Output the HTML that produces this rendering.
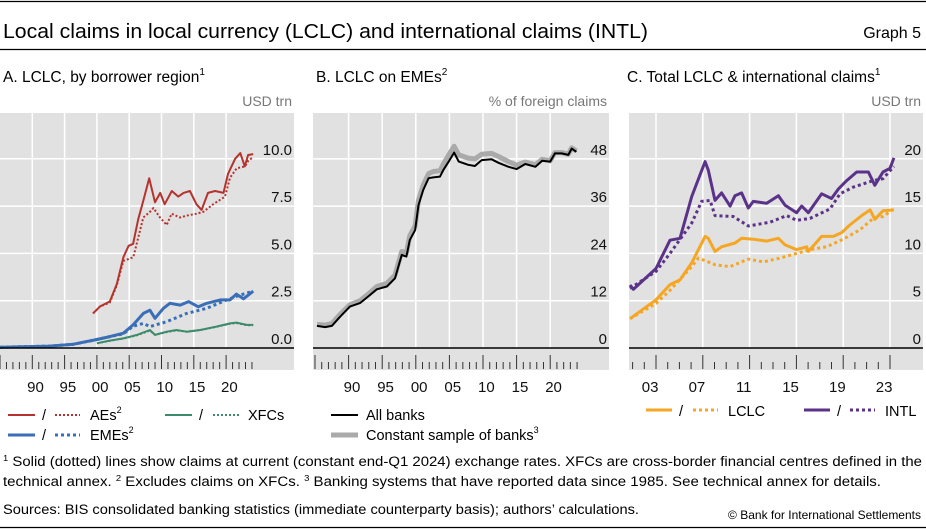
<!DOCTYPE html>
<html><head><meta charset="utf-8"><style>
html,body{margin:0;padding:0;background:#fff}
svg{display:block;font-family:"Liberation Sans",sans-serif}
</style></head><body>
<svg id="chart" width="926" height="529" viewBox="0 0 926 529" xmlns="http://www.w3.org/2000/svg">
<line x1="0" y1="1.5" x2="926" y2="1.5" stroke="#000" stroke-width="1.2"/>
<text x="3" y="38" font-size="20" textLength="645" lengthAdjust="spacingAndGlyphs" fill="#000">Local claims in local currency (LCLC) and international claims (INTL)</text>
<text x="921" y="38" font-size="16" text-anchor="end" fill="#000">Graph 5</text>
<line x1="0" y1="49.5" x2="926" y2="49.5" stroke="#000" stroke-width="1.2"/>
<text x="3" y="82" font-size="15.5" fill="#000">A. LCLC, by borrower region<tspan font-size="10" dy="-7">1</tspan></text>
<text x="316" y="82" font-size="15.5" fill="#000">B. LCLC on EMEs<tspan font-size="10" dy="-7">2</tspan></text>
<text x="627" y="82" font-size="15.5" fill="#000">C. Total LCLC &amp; international claims<tspan font-size="10" dy="-7">1</tspan></text>
<text x="292" y="106" font-size="14" text-anchor="end" fill="#777">USD trn</text>
<text x="607" y="106" font-size="14" text-anchor="end" fill="#777">% of foreign claims</text>
<text x="921" y="106" font-size="14" text-anchor="end" fill="#777">USD trn</text>
<g id="plots"></g>
<!-- legends -->
<g font-size="14.5" fill="#000">
<g>
<line x1="8" y1="415" x2="35" y2="415" stroke="#b5332e" stroke-width="2"/>
<text x="42" y="420">/</text>
<line x1="55" y1="415" x2="80" y2="415" stroke="#b5332e" stroke-width="2" stroke-dasharray="2 2"/>
<text x="90" y="420">AEs<tspan font-size="9" dy="-7">2</tspan></text></g>
<g>
<line x1="8" y1="435" x2="35" y2="435" stroke="#3a6fb7" stroke-width="3"/>
<text x="42" y="440">/</text>
<line x1="55" y1="435" x2="80" y2="435" stroke="#3a6fb7" stroke-width="3" stroke-dasharray="3 3"/>
<text x="90" y="440">EMEs<tspan font-size="9" dy="-7">2</tspan></text></g>
<g>
<line x1="165" y1="415" x2="192" y2="415" stroke="#3d8b6a" stroke-width="2"/>
<text x="199" y="420">/</text>
<line x1="213" y1="415" x2="240" y2="415" stroke="#3d8b6a" stroke-width="2" stroke-dasharray="2 2"/>
<text x="248" y="420">XFCs</text></g>
<g>
<line x1="331" y1="415" x2="358" y2="415" stroke="#000" stroke-width="2"/>
<text x="366" y="420">All banks</text></g>
<g>
<line x1="331" y1="435" x2="358" y2="435" stroke="#aaa" stroke-width="5"/>
<text x="366" y="440">Constant sample of banks<tspan font-size="9" dy="-7">3</tspan></text></g>
<g>
<line x1="646" y1="410" x2="672" y2="410" stroke="#f5a623" stroke-width="3"/>
<text x="679" y="416">/</text>
<line x1="693" y1="410" x2="718" y2="410" stroke="#f5a623" stroke-width="3" stroke-dasharray="3 3"/>
<text x="728" y="416">LCLC</text></g>
<g>
<line x1="804" y1="410" x2="830" y2="410" stroke="#5b3289" stroke-width="3"/>
<text x="837" y="416">/</text>
<line x1="850" y1="410" x2="875" y2="410" stroke="#5b3289" stroke-width="3" stroke-dasharray="3 3"/>
<text x="885" y="416">INTL</text></g>
</g>
<g font-size="13.5" fill="#000">
<text x="3" y="466" textLength="919" lengthAdjust="spacingAndGlyphs"><tspan font-size="8.5" dy="-5">1</tspan><tspan dy="5">  Solid (dotted) lines show claims at current (constant end-Q1 2024) exchange rates. XFCs are cross-border financial centres defined in the</tspan></text>
<text x="3" y="486" textLength="878" lengthAdjust="spacingAndGlyphs">technical annex.   <tspan font-size="8.5" dy="-5">2</tspan><tspan dy="5">  Excludes claims on XFCs.   </tspan><tspan font-size="8.5" dy="-5">3</tspan><tspan dy="5">  Banking systems that have reported data since 1985. See technical annex for details.</tspan></text>
<text x="3" y="514" textLength="636" lengthAdjust="spacingAndGlyphs">Sources: BIS consolidated banking statistics (immediate counterparty basis); authors’ calculations.</text>
<text x="921" y="519" font-size="12" text-anchor="end">© Bank for International Settlements</text>
</g>
<line x1="0" y1="527.5" x2="926" y2="527.5" stroke="#000" stroke-width="1.2"/>
</svg>
<script>
// ---- Panel A data (USD trn) ----
const aeSolidT=[1999.4,2000.5,2002.0,2003.1,2004.1,2004.9,2005.6,2006.4,2007.2,2008.1,2009.0,2009.8,2010.5,2011.6,2012.6,2013.4,2014.4,2015.4,2016.2,2017.2,2018.3,2019.6,2020.3,2021.4,2022.2,2022.9,2023.4,2024.2];
const aeSolidV=[1.83,2.2,2.46,3.4,4.8,5.4,5.5,6.8,7.8,8.97,7.7,8.2,7.6,8.3,8.0,8.2,8.3,7.6,7.3,8.2,8.3,8.2,9.2,10.0,10.3,9.6,10.2,10.25];
const aeDotT=[1999.4,2000.5,2002.0,2003.06,2004.09,2005.64,2007.19,2008.22,2008.74,2009.77,2010.8,2011.57,2012.86,2013.9,2015.44,2016.48,2018.02,2019.83,2020.6,2021.64,2022.93,2023.44,2024.22];
const aeDotV=[1.83,2.2,2.4,3.3,4.6,4.8,6.9,7.2,7.4,6.9,6.5,7.1,6.9,7.0,7.1,7.2,7.6,8.0,9.0,9.5,9.6,9.9,10.1];
const emeSolidT=[1985,1992.7,1996.4,2000,2002,2004.1,2005.6,2007.2,2008.2,2009,2010.3,2011.3,2012.9,2014.2,2015.7,2017,2019.1,2020.6,2021.6,2022.7,2024.2];
const emeSolidV=[0.04,0.1,0.2,0.45,0.6,0.78,1.22,1.83,2.0,1.57,2.1,2.36,2.27,2.45,2.18,2.36,2.54,2.54,2.85,2.6,3.0];
const emeDotT=[1985,1992.7,1996.4,2000,2002,2004.1,2005.6,2007.2,2008.2,2010.8,2013.9,2017,2020.1,2022.2,2024.2];
const emeDotV=[0.04,0.1,0.2,0.45,0.6,0.75,1.15,1.3,1.13,1.39,1.83,2.1,2.54,2.8,3.0];
const xfcT=[2000,2002,2004.1,2006.2,2008.2,2009,2010.8,2012.3,2013.9,2016,2018.5,2020.6,2021.6,2023.2,2024.2];
const xfcV=[0.25,0.39,0.51,0.69,0.95,0.69,0.86,0.95,0.86,0.95,1.13,1.3,1.34,1.22,1.22];
const xfcDotV=[0.25,0.38,0.5,0.67,0.92,0.7,0.84,0.93,0.86,0.95,1.12,1.28,1.32,1.2,1.2];
const aTicks=[0,2.5,5,7.5,10];
const aTickLabels=["0.0","2.5","5.0","7.5","10.0"];
// ---- Panel B data (% of foreign claims) ----
const bT=[1985.3,1986.5,1987.5,1988.7,1990.2,1991.7,1993.0,1994.2,1995.7,1996.9,1997.9,1998.6,1999.1,1999.9,2000.4,2001.1,2001.9,2002.6,2003.6,2004.1,2004.9,2005.7,2006.4,2007.8,2008.8,2009.8,2011.3,2012.3,2013.8,2015.0,2016.3,2017.8,2018.8,2020.0,2020.7,2021.7,2022.7,2023.2,2023.9];
const bAll=[5.6,5.3,5.6,7.9,10.5,11.4,13.2,14.9,15.6,17.7,23.6,23.2,27.4,29.9,36.3,40.1,43.1,43.3,43.5,45.2,47.3,49.6,47.3,46.5,46.2,47.7,47.9,47.0,46.0,45.4,46.7,46.0,47.5,47.3,49.4,49.4,49.0,50.6,49.8];
const bConst=[6.0,5.8,6.2,8.5,11.0,12.0,13.8,15.6,16.4,18.5,24.5,24.2,28.5,31.0,37.5,41.3,44.3,44.8,45.0,46.7,49.0,51.2,49.0,48.2,48.0,49.2,49.4,48.6,47.3,46.4,47.2,46.5,47.9,47.5,49.6,49.6,49.2,50.8,50.0];
const bTicks=[0,12,24,36,48];
const bTickLabels=["0","12","24","36","48"];
// ---- Panel C data (USD trn) ----
const intlT=[2001.78,2002.07,2004.0,2005.2,2006.05,2007.05,2007.76,2008.2,2008.47,2009.04,2009.61,2010.33,2010.75,2011.32,2011.89,2012.32,2013.46,2014.46,2015.03,2016.02,2016.45,2017.02,2018.16,2019.0,2019.58,2020.3,2021.15,2022.15,2022.7,2023.4,2024.0,2024.33];
const intlV=[6.66,6.2,8.4,11.4,11.6,16.0,18.3,19.7,18.8,15.6,16.4,15.0,16.1,16.4,14.8,15.5,15.3,16.1,15.1,14.3,15.0,14.3,16.3,15.8,16.8,17.7,18.6,18.6,17.2,18.6,19.0,20.1];
const intlDotT=[2001.78,2004.0,2005.2,2007.05,2007.9,2008.62,2009.04,2010.61,2011.89,2013.74,2015.17,2016.02,2017.16,2018.87,2019.73,2020.85,2022.56,2023.4,2024.33];
const intlDotV=[6.3,8.1,10.0,13.2,15.5,15.6,14.0,13.9,12.9,13.3,14.0,13.5,13.7,14.7,16.3,17.0,17.7,17.9,19.2];
const lclcT=[2001.78,2004.0,2005.2,2006.05,2007.05,2008.2,2008.47,2009.04,2009.61,2010.75,2011.32,2012.32,2013.46,2014.46,2015.03,2016.02,2016.88,2017.02,2018.16,2019.15,2019.87,2020.56,2021.7,2022.3,2022.7,2023.4,2024.33];
const lclcV=[3.1,5.1,6.7,7.2,9.0,11.8,11.6,10.2,10.7,11.1,11.6,11.5,11.3,11.6,10.9,10.4,10.7,10.2,11.8,11.8,12.2,13.0,14.1,14.6,13.6,14.5,14.6];
const lclcDotT=[2001.78,2004.0,2005.2,2007.05,2007.62,2008.47,2009.04,2010.33,2011.89,2013.17,2014.6,2016.02,2017.16,2018.58,2020.0,2021.43,2022.56,2023.4,2024.33];
const lclcDotV=[3.1,4.7,6.1,8.6,9.5,9.1,8.8,8.6,9.4,9.1,9.5,10.0,10.4,10.7,11.5,12.5,13.7,13.9,14.7];
const cTicks=[0,5,10,15,20];
const cTickLabels=["0","5","10","15","20"];
const aYears=["90","95","00","05","10","15","20"];
const cYears=["03","07","11","15","19","23"];

const NS="http://www.w3.org/2000/svg";
const root=document.getElementById('plots');
function mk(tag,attrs,parent){const e=document.createElementNS(NS,tag);for(const k in attrs)e.setAttribute(k,attrs[k]);(parent||root).appendChild(e);return e;}

const panels={
 a:{x0:0,x1:294,t0:1985,ppy:6.46,ppv:18.92,ticks:aTicks,labels:aTickLabels,grid:[1990,1995,2000,2005,2010,2015,2020],tickStart:1985,tickEnd:2024,major:t=>(t%5===0),yl:aYears,ylT:t=>1990+5*t},
 b:{x0:313,x1:609,t0:1985,ppy:6.72,ppv:3.94,ticks:bTicks,labels:bTickLabels,grid:[1990,1995,2000,2005,2010,2015,2020],tickStart:1985,tickEnd:2024,major:t=>(t%5===0),yl:aYears,ylT:t=>1990+5*t},
 c:{x0:629,x1:923,t0:2004,ppy:11.7,ppv:9.46,ticks:cTicks,labels:cTickLabels,grid:[2004,2008,2012,2016,2020,2024],tickStart:2002,tickEnd:2024,major:t=>((t-2004)%4===0),yl:cYears,ylT:t=>2003+4*t}
};
const AX=348;
function sx(p,t){return p===panels.a?(t-1985)*p.ppy:(p===panels.b?315+(t-1985)*p.ppy:656+(t-2004)*p.ppy);}
function sy(p,v){return AX-v*p.ppv;}

for(const key in panels){
 const p=panels[key];
 const g=mk('g',{});
 
 
 const bg=mk('rect',{x:p.x0,y:113,width:p.x1-p.x0,height:257,fill:'#e1e1e1'},g);
 
 
 p.grid.forEach(t=>{const l=mk('line',{x1:sx(p,t),x2:sx(p,t),y1:113,y2:AX,stroke:'#fff','stroke-width':1.5},g);
  
  });
 p.ticks.forEach((v,i)=>{
  if(v>0){const l=mk('line',{x1:p.x0,x2:p.x1,y1:sy(p,v),y2:sy(p,v),stroke:'#fff','stroke-width':1.5},g);
   
   }
  const tx=mk('text',{x:p.x1-2,y:sy(p,v)-4,'font-size':15,'text-anchor':'end',fill:'#111'},g);
  tx.textContent=p.labels[i];
  
  
 });
 g.p=p;p.g=g;
}
function line(key,ts,vs,color,w,dash,name){
 const p=panels[key];
 const d=ts.map((t,i)=>(i?'L':'M')+sx(p,t).toFixed(1)+' '+sy(p,vs[i]).toFixed(1)).join(' ');
 const e=mk('path',{d:d,fill:'none',stroke:color,'stroke-width':w,'stroke-linejoin':'round'},p.g);
 if(dash)e.setAttribute('stroke-dasharray',dash);
 
 
}
line('a',xfcT,xfcDotV,'#3d8b6a',2,'2 2','xfc-constant-line');
line('a',xfcT,xfcV,'#3d8b6a',2,null,'xfc-current-line');
line('a',emeDotT,emeDotV,'#3a6fb7',3,'3 3','eme-constant-line');
line('a',emeSolidT,emeSolidV,'#3a6fb7',3,null,'eme-current-line');
line('a',aeDotT,aeDotV,'#b5332e',2,'2 2','ae-constant-line');
line('a',aeSolidT,aeSolidV,'#b5332e',2,null,'ae-current-line');
line('b',bT,bConst,'#aaa',5,null,'constant-sample-line');
line('b',bT,bAll,'#000',2,null,'all-banks-line');
line('c',lclcDotT,lclcDotV,'#f5a623',3,'3 3','lclc-constant-line');
line('c',lclcT,lclcV,'#f5a623',3,null,'lclc-current-line');
line('c',intlDotT,intlDotV,'#5b3289',3,'3 3','intl-constant-line');
line('c',intlT,intlV,'#5b3289',3,null,'intl-current-line');

for(const key in panels){
 const p=panels[key],g=p.g;
 const ax=mk('line',{x1:p.x0,x2:p.x1,y1:AX,y2:AX,stroke:'#000','stroke-width':1.5},g);
 
 
 for(let t=p.tickStart;t<=p.tickEnd;t++){
  const x=sx(p,t),m=p.major(t);
  const tk=mk('line',{x1:x,x2:x,y1:m?355:362,y2:369,stroke:'#333','stroke-width':1},g);
  
  
 }
 p.yl.forEach((lab,i)=>{
  const tx=mk('text',{x:sx(p,p.ylT(i)+0.5),y:392,'font-size':15,'text-anchor':'middle',fill:'#111'},g);
  tx.textContent=lab;
  
  
 });
}
</script>
</body></html>
